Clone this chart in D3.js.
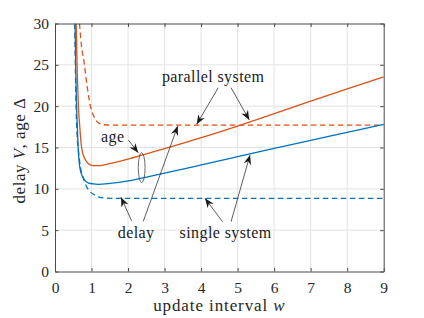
<!DOCTYPE html>
<html><head><meta charset="utf-8">
<script src="https://cdn.jsdelivr.net/npm/d3@7"></script>
<style>
html,body{margin:0;padding:0;background:#fff;}
svg{display:block;font-family:"Liberation Serif","Times New Roman",serif;}
</style></head>
<body>
<svg id="chart" width="424" height="318"></svg>
<script>
// ---- data ----
const xTicks = [0,1,2,3,4,5,6,7,8,9];
const yTicks = [0,5,10,15,20,25,30];

const singleAgeW   = [0.55,0.57,0.59,0.61,0.64,0.68,0.74,0.82,0.92,1.05,1.18,1.5,2,2.37,3,3.56,4.25,5,6,7,8,9];
const singleAgeV   = [30,24,20,17.7,14.5,12.6,11.6,11.0,10.7,10.6,10.55,10.65,10.95,11.3,11.9,12.45,13.15,13.9,14.9,15.85,16.83,17.8];

const parallelAgeW = [0.58,0.61,0.64,0.675,0.72,0.76,0.81,0.9,1.04,1.2,1.5,2,2.4,3,3.56,4.3,5,6,7,8,9];
const parallelAgeV = [30,24,20,17.7,15.3,14.3,13.7,13.1,12.8,12.8,13.05,13.6,14.1,14.85,15.6,16.6,17.6,19.1,20.6,22.1,23.55];

const singleDelayW = [0.54,0.56,0.58,0.6,0.65,0.7,0.77,0.85,0.95,1.05,1.2,1.4,1.7,9];
const singleDelayV = [30,24,19.5,17,14.3,12.5,11.4,10.4,9.7,9.35,9.0,8.88,8.85,8.85];

const parallelDelayW = [0.67,0.72,0.8,0.88,0.98,1.05,1.12,1.2,1.3,1.5,9];
const parallelDelayV = [30,27.5,25.2,22.4,19.8,18.9,18.3,17.95,17.78,17.7,17.7];

const xLabel = "update interval ";
const xLabelVar = "w";
const yLabelA = "delay ";
const yLabelVar = "V";
const yLabelB = ", age \u0394";

// annotations (data units)
const annoTexts = ["parallel system","age","delay","single system"];
const annoTextW = [4.33,1.58,2.22,4.67];
const annoTextV = [22.96,15.7,4.05,4.02];
const arrowFromW = [4.47,4.82,2.007,2.10,2.417,4.59,4.82];
const arrowFromV = [22.23,22.23,15.91,6.11,6.07,6.02,6.02];
const arrowToW   = [3.88,5.32,2.28,1.807,3.36,4.106,5.34];
const arrowToV   = [17.81,18.33,14.37,8.98,17.6,8.85,14.09];
const ellipseW = 2.373, ellipseV = 12.56, ellipseRW = 0.093, ellipseRV = 1.81;

// ---- layout ----
const svg = d3.select("#chart");
const L = 55, R = 383.7, T = 23.5, B = 271.5;
const x = d3.scaleLinear().domain([0,9]).range([L,R]);
const y = d3.scaleLinear().domain([0,30]).range([B,T]);
const blue = "#0072BD", orange = "#D95319";
const axisCol = "#4a4a4a", gridCol = "#e3e3e3";

// grid
svg.append("g").selectAll("line").data(xTicks.slice(1,-1)).join("line")
  .attr("x1",d=>x(d)).attr("x2",d=>x(d)).attr("y1",T).attr("y2",B)
  .attr("stroke",gridCol).attr("stroke-width",1);
svg.append("g").selectAll("line").data(yTicks.slice(1,-1)).join("line")
  .attr("y1",d=>y(d)).attr("y2",d=>y(d)).attr("x1",L).attr("x2",R)
  .attr("stroke",gridCol).attr("stroke-width",1);

// curves
svg.append("clipPath").attr("id","clip").append("rect")
  .attr("x",L).attr("y",T).attr("width",R-L).attr("height",B-T);
const line = d3.line().x(d=>x(d[0])).y(d=>y(d[1])).curve(d3.curveMonotoneX);
const series = [
  {w:singleDelayW, v:singleDelayV, c:blue, dash:"5.5,3.5"},
  {w:parallelDelayW, v:parallelDelayV, c:orange, dash:"5.5,3.5"},
  {w:singleAgeW, v:singleAgeV, c:blue, dash:null},
  {w:parallelAgeW, v:parallelAgeV, c:orange, dash:null},
];
const cg = svg.append("g").attr("clip-path","url(#clip)");
series.forEach(s=>{
  cg.append("path").datum(d3.zip(s.w,s.v)).attr("d",line)
    .attr("fill","none").attr("stroke",s.c).attr("stroke-width",1.3)
    .attr("stroke-dasharray",s.dash);
});

// axes (box with inward ticks on all sides)
const tl = 3.5;
const gx = svg.append("g").attr("transform",`translate(0,${B})`)
  .call(d3.axisBottom(x).tickValues(xTicks).tickSizeInner(-tl).tickSizeOuter(0).tickPadding(10).tickFormat(d3.format("d")));
const gxt = svg.append("g").attr("transform",`translate(0,${T})`)
  .call(d3.axisTop(x).tickValues(xTicks).tickSizeInner(-tl).tickSizeOuter(0).tickFormat(""));
const gy = svg.append("g").attr("transform",`translate(${L},0)`)
  .call(d3.axisLeft(y).tickValues(yTicks).tickSizeInner(-tl).tickSizeOuter(0).tickPadding(6).tickFormat(d3.format("d")));
const gyr = svg.append("g").attr("transform",`translate(${R},0)`)
  .call(d3.axisRight(y).tickValues(yTicks).tickSizeInner(-tl).tickSizeOuter(0).tickFormat(""));
[gx,gxt,gy,gyr].forEach(g=>{
  g.attr("font-family","'Liberation Serif',serif");
  g.select(".domain").attr("stroke",axisCol).attr("stroke-width",1);
  g.selectAll(".tick line").attr("stroke",axisCol).attr("stroke-width",1);
  g.selectAll("text").attr("fill","#262626").style("font-family","'Liberation Serif',serif").style("font-size","15.5px");
});
gx.selectAll("text").attr("dy","0.72em");

// axis labels
const xl = svg.append("text").attr("x",(L+R)/2).attr("y",311).attr("text-anchor","middle")
  .attr("fill","#262626").style("font-size","17px").style("letter-spacing","0.9px");
xl.append("tspan").text(xLabel);
xl.append("tspan").style("font-style","italic").text(xLabelVar);

const yl = svg.append("text").attr("transform",`translate(25,${(T+B)/2+3}) rotate(-90)`)
  .attr("text-anchor","middle").attr("fill","#262626").style("font-size","17px").style("letter-spacing","0.5px");
yl.append("tspan").text(yLabelA);
yl.append("tspan").style("font-style","italic").text(yLabelVar);
yl.append("tspan").text(yLabelB);

// arrow marker
const defs = svg.append("defs");
defs.append("marker").attr("id","ah").attr("markerUnits","userSpaceOnUse")
  .attr("viewBox","-10 -5 11 10").attr("refX",0).attr("refY",0)
  .attr("markerWidth",11).attr("markerHeight",10).attr("orient","auto")
  .append("path").attr("d","M0,0 L-9.5,-3.8 L-6.5,0 L-9.5,3.8 Z").attr("fill","#1a1a1a");

svg.append("g").selectAll("line").data(d3.range(arrowFromW.length)).join("line")
  .attr("x1",i=>x(arrowFromW[i])).attr("y1",i=>y(arrowFromV[i]))
  .attr("x2",i=>x(arrowToW[i])).attr("y2",i=>y(arrowToV[i]))
  .attr("stroke","#333").attr("stroke-width",0.8).attr("marker-end","url(#ah)");

svg.append("ellipse").attr("cx",x(ellipseW)).attr("cy",y(ellipseV))
  .attr("rx",x(ellipseRW)-x(0)).attr("ry",y(0)-y(ellipseRV))
  .attr("fill","none").attr("stroke","#444").attr("stroke-width",0.8);

svg.append("g").selectAll("text").data(d3.range(annoTexts.length)).join("text")
  .attr("x",i=>x(annoTextW[i])).attr("y",i=>y(annoTextV[i]))
  .attr("text-anchor","middle").attr("fill","#1a1a1a")
  .style("font-size","16px").style("letter-spacing","0.4px")
  .text(i=>annoTexts[i]);
</script>
</body></html>
